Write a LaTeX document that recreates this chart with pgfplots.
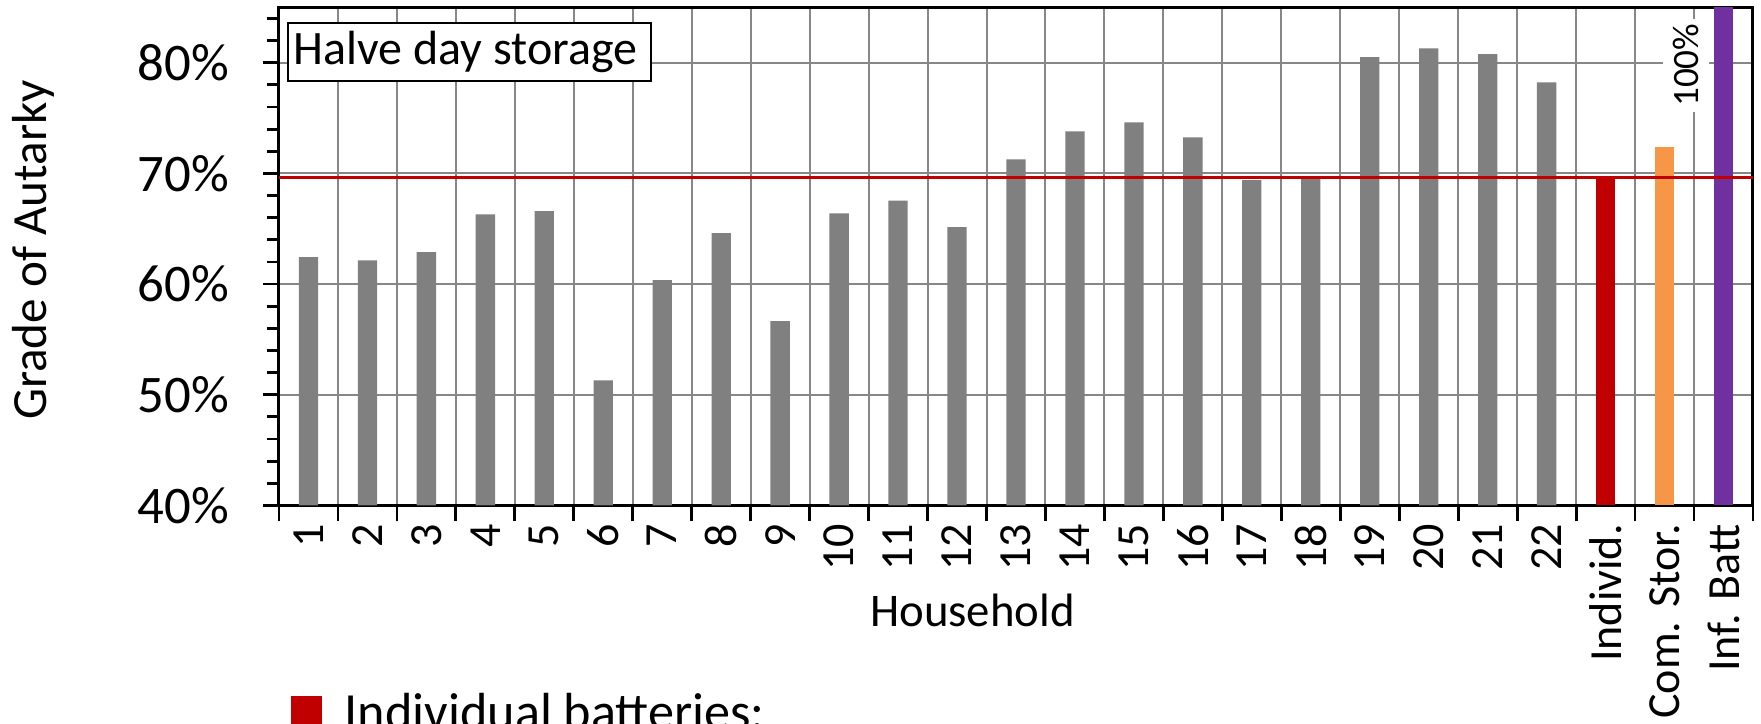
\documentclass[border=0pt]{standalone}
\usepackage{fontspec}
\setmainfont{Carlito}
\usepackage{pgfplots}
\usepackage{pgfplotstable}
\pgfplotsset{compat=1.18}

\definecolor{hhgray}{HTML}{808080}
\definecolor{gridgray}{HTML}{878787}
\definecolor{indivred}{HTML}{C00000}
\definecolor{comorange}{HTML}{F79646}
\definecolor{infpurple}{HTML}{7030A0}

% grade of autarky per household, half-day storage
\pgfplotstableread{
hh val
1  62.44
2  62.14
3  62.89
4  66.30
5  66.59
6  51.30
7  60.36
8  64.60
9  56.66
10 66.39
11 67.53
12 65.15
13 71.26
14 73.79
15 74.60
16 73.25
17 69.39
18 69.55
19 80.50
20 81.29
21 80.78
22 78.22
}\households

\begin{document}
\begin{tikzpicture}
\path[use as bounding box] (-69.75pt,-54.65pt) rectangle (370.5pt,126.35pt);
\clip (-69.75pt,-54.65pt) rectangle (370.5pt,126.35pt);
\begin{axis}[
  name=main,
  at={(0pt,0pt)}, anchor=south west,
  scale only axis, width=368.5pt, height=124.5pt,
  xmin=0.5, xmax=25.5, ymin=40, ymax=85,
  tick align=outside, tick pos=left,
  major tick length=4pt, minor tick length=3pt,
  tick style={black, line width=0.7pt},
  axis line style={black, line width=0.75pt},
  xmajorgrids, ymajorgrids,
  grid style={gridgray, line width=0.5pt},
  xtick={0.5,1.5,...,25.5}, xticklabels={},
  extra x ticks={1,2,...,25},
  extra x tick labels={1,2,3,4,5,6,7,8,9,10,11,12,13,14,15,16,17,18,19,20,21,22,Individ.,Com. Stor.,Inf. Batt},
  extra x tick style={grid=none, major tick length=0pt,
    xticklabel style={rotate=90, anchor=east, inner xsep=4.5pt, inner ysep=0pt,
      font=\fontsize{11.5}{13}\selectfont}},
  ytick={40,50,60,70,80},
  yticklabels={40\%,50\%,60\%,70\%,80\%},
  minor ytick={42,44,46,48,52,54,56,58,62,64,66,68,72,74,76,78,82,84},
  yticklabel style={anchor=east, inner sep=0pt, xshift=-8.25pt,
    font=\fontsize{13.2}{15}\selectfont},
  xlabel={Household},
  xlabel style={at={([yshift=-30.4pt]axis description cs:0.4705,0)}, anchor=base,
    inner sep=0pt, font=\fontsize{11.7}{14}\selectfont},
  ylabel={Grade of Autarky},
  ylabel style={at={([xshift=-61.5pt,yshift=1.6pt]axis description cs:0,0.5)},
    anchor=center, inner sep=0pt, font=\fontsize{12.3}{14}\selectfont},
]
\addplot[ybar, bar width=4.83pt, bar shift=0pt, fill=hhgray, draw=none]
  table[x=hh, y=val] {\households};
\addplot[ybar, bar width=4.83pt, bar shift=0pt, fill=indivred, draw=none]
  coordinates {(23,69.64)};
\addplot[ybar, bar width=4.83pt, bar shift=0pt, fill=comorange, draw=none]
  coordinates {(24,72.38)};
\addplot[ybar, bar width=4.83pt, bar shift=0pt, fill=infpurple, draw=none]
  coordinates {(25,100)};
% mean of the individual batteries
\addplot[indivred, line width=0.75pt] coordinates {(0.5,69.64) (25.5,69.64)};

\node[rotate=90, fill=white, inner xsep=1.2pt, inner ysep=2.5pt,
  font=\fontsize{9.3}{11}\selectfont] at (axis cs:24.36,79.78) {100\%};
\node[draw=black, line width=0.5pt, fill=white, anchor=north west,
  inner xsep=1.35pt, inner ysep=0pt, minimum height=14.4pt,
  font=\fontsize{12}{14}\selectfont]
  at ([xshift=2.1pt,yshift=-3.7pt]rel axis cs:0,1)
  {\makebox[88pt][l]{Halve day storage}};
\end{axis}
\node[anchor=base west, inner sep=0pt, font=\fontsize{13.05}{15}\selectfont]
  at ([xshift=2.75pt,yshift=-56.1pt]main.south west)
  {{\color{indivred}\rule[0.68pt]{7.75pt}{7.75pt}}\hspace{5.75pt}Individual batteries:};
\end{tikzpicture}
\end{document}
